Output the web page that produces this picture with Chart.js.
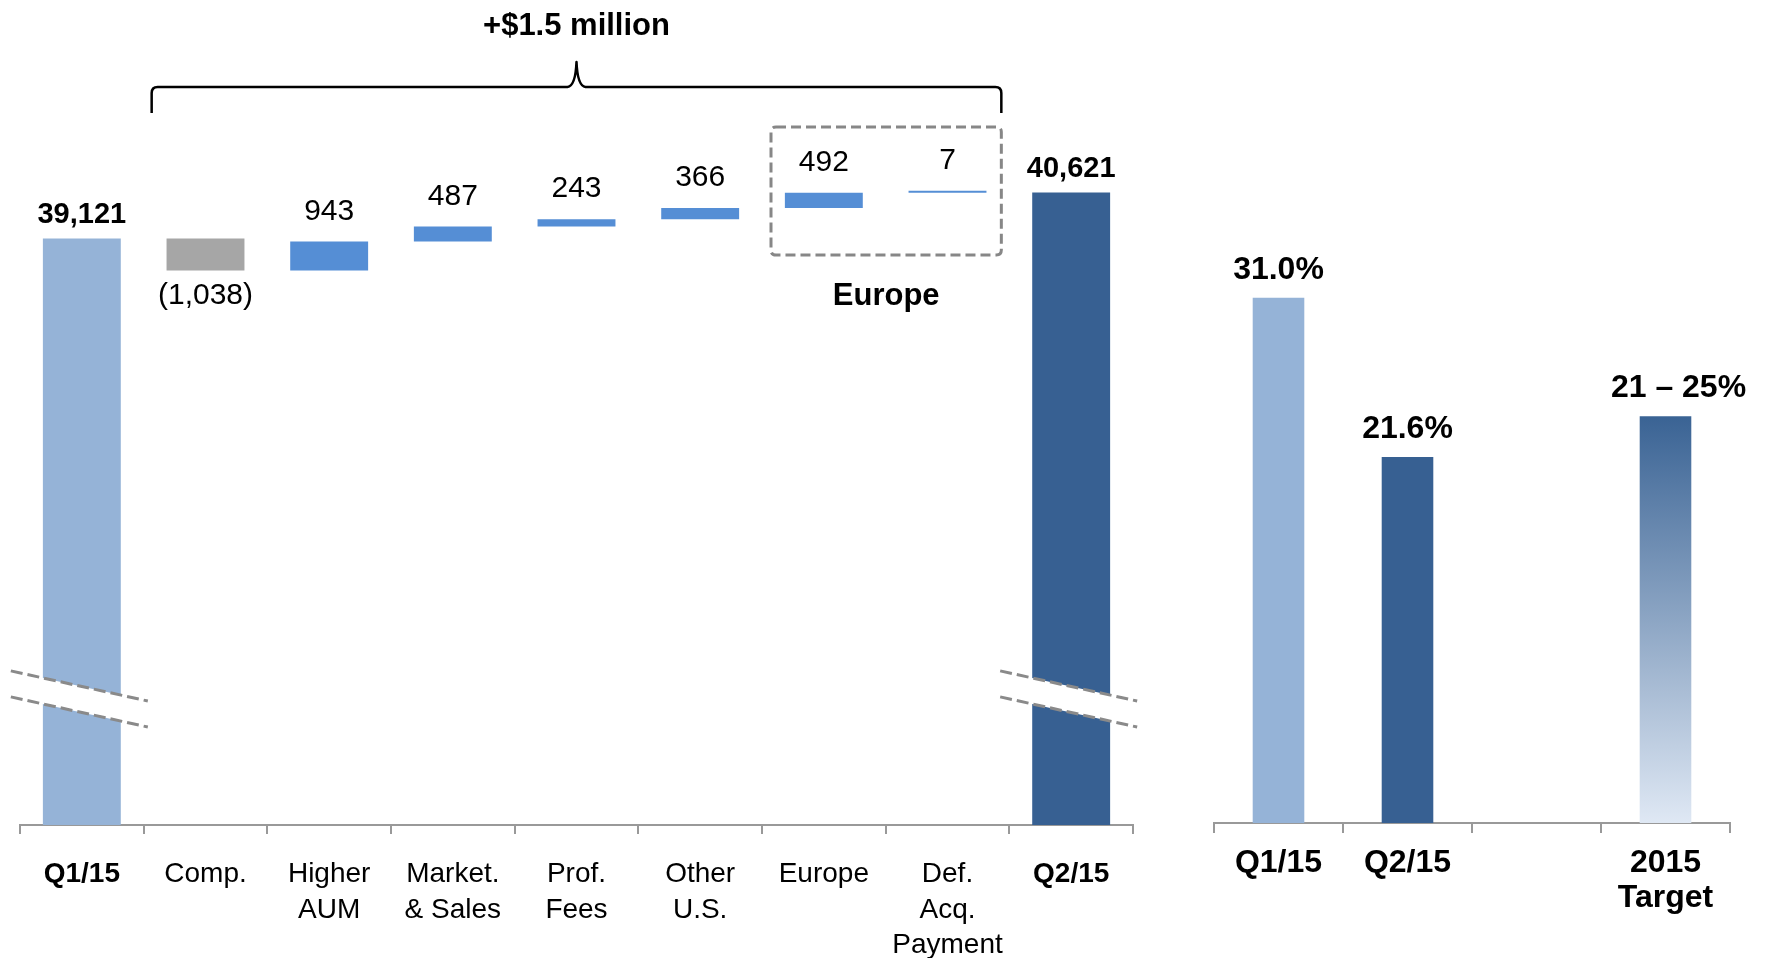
<!DOCTYPE html>
<html><head><meta charset="utf-8">
<script src="https://cdn.jsdelivr.net/npm/chart.js@4.4.1/dist/chart.umd.min.js"></script>
<style>
html,body{margin:0;padding:0;background:#fff;width:1766px;height:958px;overflow:hidden}
#left{position:absolute;left:0;top:0}
#right{position:absolute;left:1180px;top:0}
</style></head><body>
<canvas id="left" width="1180" height="958"></canvas>
<canvas id="right" width="586" height="958"></canvas>
<script>
// ---------- data ----------
const bridgeCategories = ['Q1/15', 'Comp.', ['Higher', 'AUM'], ['Market.', '& Sales'], ['Prof.', 'Fees'], ['Other', 'U.S.'], 'Europe', ['Def.', 'Acq.', 'Payment'], 'Q2/15'];
const startTotal = 39121;
const bridgeChanges = [-1038, 943, 487, 243, 366, 492, 7];
const endTotal = 40621;
const bridgeAxisMin = 20000;
const bridgeAxisMax = 44000;
const bridgeTitle = '+$1.5 million';
const europeGroupLabel = 'Europe';

const marginCategories = ['Q1/15', 'Q2/15', '', ['2015', 'Target']];
const marginValues = [31.0, 21.6, null, 24];
const marginLabels = ['31.0%', '21.6%', '', '21 \u2013 25%'];
const marginAxisMax = 36;

// ---------- helpers ----------
const FONT = '"Liberation Sans", Arial, Helvetica, sans-serif';
const fmt = n => n.toLocaleString('en-US');

const bridgeData = [startTotal];
let running = startTotal;
bridgeChanges.forEach(c => { bridgeData.push([running, running + c]); running += c; });
bridgeData.push(endTotal);
const lastIdx = bridgeData.length - 1;

const bridgeColors = bridgeData.map((d, i) => {
  if (i === 0) return '#95B3D7';
  if (i === lastIdx) return '#376092';
  return d[1] < d[0] ? '#A6A6A6' : '#558ED5';
});

function bridgeLabel(i) {
  if (i === 0) return fmt(startTotal);
  if (i === lastIdx) return fmt(endTotal);
  const c = bridgeChanges[i - 1];
  return c < 0 ? '(' + fmt(-c) + ')' : fmt(c);
}

function drawBreak(ctx, cx, axisY) {
  const slope = 0.22, x0 = cx - 71, x1 = cx + 66;
  const yU = axisY - 138.5, yL = axisY - 112.5;
  const f = (yc, xx) => yc + (xx - cx) * slope;
  ctx.save();
  ctx.fillStyle = '#ffffff';
  ctx.beginPath();
  ctx.moveTo(x0, f(yU, x0)); ctx.lineTo(x1, f(yU, x1));
  ctx.lineTo(x1, f(yL, x1)); ctx.lineTo(x0, f(yL, x0));
  ctx.closePath(); ctx.fill();
  ctx.strokeStyle = '#8a8a8a'; ctx.lineWidth = 3; ctx.setLineDash([12, 5]);
  [yU, yL].forEach(yc => {
    ctx.beginPath(); ctx.moveTo(x0, f(yc, x0)); ctx.lineTo(x1, f(yc, x1)); ctx.stroke();
  });
  ctx.restore();
}

function roundRectPath(ctx, x, y, w, h, r) {
  ctx.beginPath();
  ctx.moveTo(x + r, y); ctx.lineTo(x + w - r, y); ctx.quadraticCurveTo(x + w, y, x + w, y + r);
  ctx.lineTo(x + w, y + h - r); ctx.quadraticCurveTo(x + w, y + h, x + w - r, y + h);
  ctx.lineTo(x + r, y + h); ctx.quadraticCurveTo(x, y + h, x, y + h - r);
  ctx.lineTo(x, y + r); ctx.quadraticCurveTo(x, y, x + r, y);
  ctx.closePath();
}

const leftDecor = {
  id: 'leftDecor',
  afterDatasetsDraw(chart) {
    const { ctx, chartArea, scales: { x } } = chart;
    const meta = chart.getDatasetMeta(0);
    // axis breaks on the total bars
    [0, lastIdx].forEach(i => drawBreak(ctx, meta.data[i].x, chartArea.bottom));

    // value labels
    ctx.save();
    ctx.textAlign = 'center';
    ctx.fillStyle = '#000';
    meta.data.forEach((bar, i) => {
      const total = (i === 0 || i === lastIdx);
      const neg = !total && bridgeChanges[i - 1] < 0;
      ctx.font = (total ? 'bold 29px ' : '30px ') + FONT;
      const top = Math.min(bar.y, bar.base), bottom = Math.max(bar.y, bar.base);
      if (neg) {
        ctx.textBaseline = 'middle';
        ctx.fillText(bridgeLabel(i), bar.x, bottom + 25);
      } else {
        ctx.textBaseline = 'alphabetic';
        ctx.fillText(bridgeLabel(i), bar.x, top - (total ? 16 : 22));
      }
    });

    // brace over the change categories
    const catW = x.width / bridgeCategories.length;
    const edgeL = i => x.getPixelForValue(i) - catW / 2;
    const L = edgeL(1) + 8, R = edgeL(lastIdx - 1) + catW - 8, M = (L + R) / 2;
    const yLine = 87, yEnd = 113, yTip = 62;
    ctx.strokeStyle = '#000'; ctx.lineWidth = 2.5; ctx.lineJoin = 'round';
    ctx.beginPath();
    ctx.moveTo(L, yEnd); ctx.lineTo(L, yLine + 6);
    ctx.quadraticCurveTo(L, yLine, L + 6, yLine);
    ctx.lineTo(M - 9, yLine);
    ctx.quadraticCurveTo(M - 1, yLine - 1, M, yTip);
    ctx.quadraticCurveTo(M + 1, yLine - 1, M + 9, yLine);
    ctx.lineTo(R - 6, yLine);
    ctx.quadraticCurveTo(R, yLine, R, yLine + 6);
    ctx.lineTo(R, yEnd);
    ctx.stroke();

    ctx.font = 'bold 31px ' + FONT;
    ctx.textBaseline = 'alphabetic';
    ctx.fillText(bridgeTitle, M, 35);

    // dashed Europe box
    const bx0 = edgeL(6) + 9, bx1 = edgeL(7) + catW - 8;
    ctx.strokeStyle = '#878787'; ctx.lineWidth = 3; ctx.setLineDash([10, 5]);
    roundRectPath(ctx, bx0, 127, bx1 - bx0, 128, 5);
    ctx.stroke();
    ctx.setLineDash([]);
    ctx.font = 'bold 31px ' + FONT;
    ctx.fillText(europeGroupLabel, (bx0 + bx1) / 2, 305);
    ctx.restore();
  }
};

new Chart(document.getElementById('left'), {
  type: 'bar',
  data: {
    labels: bridgeCategories,
    datasets: [{
      data: bridgeData,
      backgroundColor: bridgeColors,
      borderWidth: 0,
      minBarLength: 2,
      barPercentage: 0.63,
      categoryPercentage: 1
    }]
  },
  options: {
    responsive: false,
    animation: false,
    devicePixelRatio: 1,
    layout: { autoPadding: false, padding: { left: 20, right: 47, top: 89, bottom: 0 } },
    plugins: { legend: { display: false }, tooltip: { enabled: false } },
    scales: {
      x: {
        offset: true,
        afterFit: s => { s.height = 133; },
        border: { display: true, color: '#999999', width: 2 },
        grid: { display: true, offset: true, drawOnChartArea: false, drawTicks: true, tickLength: 9, color: '#999999', lineWidth: 2 },
        ticks: {
          autoSkip: false, maxRotation: 0, minRotation: 0, padding: 23,
          color: '#000',
          font: c => ({ family: FONT, size: 28, lineHeight: 35.5 / 28,
            weight: (c.index === 0 || c.index === lastIdx) ? 'bold' : 'normal' })
        }
      },
      y: { display: false, min: bridgeAxisMin, max: bridgeAxisMax }
    }
  },
  plugins: [leftDecor]
});

const rightDecor = {
  id: 'rightDecor',
  afterDatasetsDraw(chart) {
    const { ctx } = chart;
    const meta = chart.getDatasetMeta(0);
    ctx.save();
    ctx.textAlign = 'center'; ctx.textBaseline = 'alphabetic'; ctx.fillStyle = '#000';
    ctx.font = 'bold 32px ' + FONT;
    meta.data.forEach((bar, i) => {
      if (marginValues[i] == null) return;
      const dx = (i === marginValues.length - 1) ? 13 : 0;
      ctx.fillText(marginLabels[i], bar.x + dx, bar.y - 19);
    });
    ctx.restore();
  }
};

new Chart(document.getElementById('right'), {
  type: 'bar',
  data: {
    labels: marginCategories,
    datasets: [{
      data: marginValues,
      borderWidth: 0,
      barPercentage: 0.4,
      categoryPercentage: 1,
      backgroundColor: c => {
        const i = c.dataIndex;
        if (i === 0) return '#95B3D7';
        if (i === 1) return '#376092';
        const chart = c.chart;
        if (!chart.chartArea || !chart.scales.y || marginValues[i] == null) return '#7f9cc4';
        const ys = chart.scales.y;
        const g = chart.ctx.createLinearGradient(0, ys.getPixelForValue(marginValues[i]), 0, ys.getPixelForValue(0));
        g.addColorStop(0, '#3A6394');
        g.addColorStop(1, '#DFE8F4');
        return g;
      }
    }]
  },
  options: {
    responsive: false,
    animation: false,
    devicePixelRatio: 1,
    layout: { autoPadding: false, padding: { left: 34, right: 36, top: 213, bottom: 0 } },
    plugins: { legend: { display: false }, tooltip: { enabled: false } },
    scales: {
      x: {
        offset: true,
        afterFit: s => { s.height = 135; },
        border: { display: true, color: '#999999', width: 2 },
        grid: { display: true, offset: true, drawOnChartArea: false, drawTicks: true, tickLength: 10, color: '#999999', lineWidth: 2 },
        ticks: {
          autoSkip: false, maxRotation: 0, minRotation: 0, padding: 13,
          color: '#000',
          font: { family: FONT, size: 32, weight: 'bold', lineHeight: 35 / 32 }
        }
      },
      y: { display: false, min: 0, max: marginAxisMax }
    }
  },
  plugins: [rightDecor]
});
</script>
</body></html>
